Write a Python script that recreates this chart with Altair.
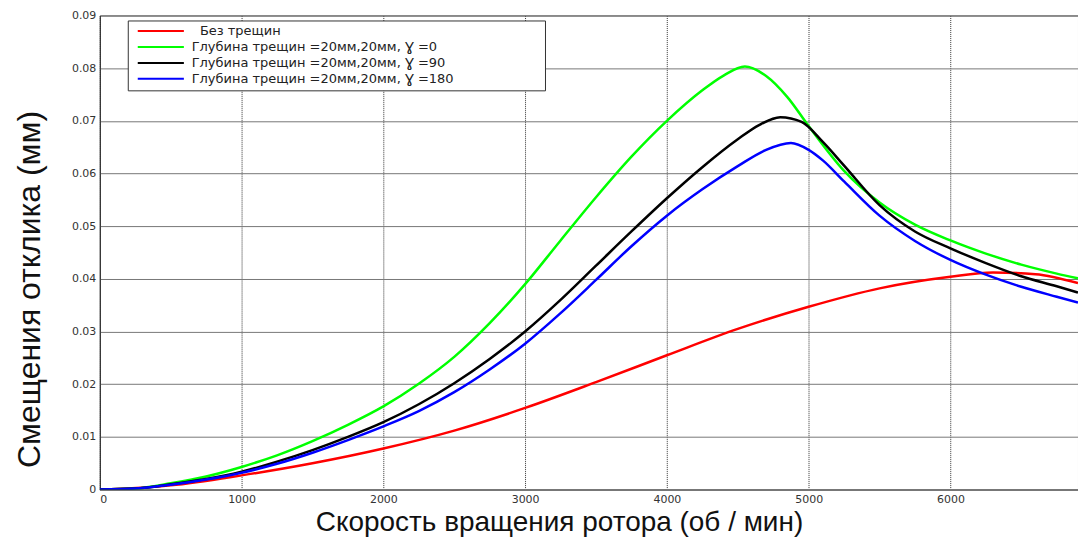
import altair as alt
import pandas as pd

# ---- data ----
ZW = "\u200b"
NB = "\u00a0"
labels = [
    ZW + NB * 2 + "Без трещин",
    "Глубина трещин =20мм,20мм, Ɣ =0",
    "Глубина трещин =20мм,20мм, Ɣ =90",
    "Глубина трещин =20мм,20мм, Ɣ =180" + NB * 21 + ZW,
]
colors = ["#ff0000", "#00ff00", "#000000", "#0000ff"]

red_x = [0, 500, 1000, 1500, 2000, 2500, 3000, 3500, 4000, 4500, 5000, 5500, 6000, 6300, 6600, 6900]
red_y = [0, 0.0008, 0.0027, 0.0050, 0.0078, 0.0112, 0.0155, 0.0204, 0.0255, 0.0305, 0.0347, 0.0382,
         0.0404, 0.0412, 0.0409, 0.0392]

green_x = [0, 250, 500, 750, 1000, 1250, 1500, 1750, 2000, 2250, 2500, 2750, 3000, 3250, 3500, 3750,
           4000, 4250, 4400, 4550, 4700, 4850, 5000, 5250, 5500, 5750, 6000, 6250, 6500, 6750, 6900]
green_y = [0, 0.0002, 0.0012, 0.0025, 0.0043, 0.0065, 0.0092, 0.0123, 0.0158, 0.0201, 0.0252, 0.0316,
           0.0390, 0.0473, 0.0555, 0.0632, 0.0700, 0.0758, 0.0786, 0.0803, 0.0785, 0.0745, 0.0690,
           0.0605, 0.0545, 0.0503, 0.0473, 0.0448, 0.0427, 0.0410, 0.0401]

black_x = [0, 250, 500, 750, 1000, 1250, 1500, 1750, 2000, 2250, 2500, 2750, 3000, 3250, 3500, 3750,
           4000, 4250, 4500, 4650, 4800, 4950, 5100, 5250, 5500, 5750, 6000, 6250, 6500, 6750, 6900]
black_y = [0, 0.0002, 0.0010, 0.0020, 0.0034, 0.0053, 0.0075, 0.0100, 0.0128, 0.0162, 0.0202, 0.0248,
           0.0300, 0.0360, 0.0425, 0.0490, 0.0553, 0.0612, 0.0665, 0.0692, 0.0707, 0.0698, 0.0660,
           0.0615, 0.0540, 0.0490, 0.0458, 0.0430, 0.0405, 0.0386, 0.0374]

blue_x = [0, 250, 500, 750, 1000, 1250, 1500, 1750, 2000, 2250, 2500, 2750, 3000, 3250, 3500, 3750,
          4000, 4250, 4500, 4700, 4875, 5000, 5100, 5250, 5500, 5750, 6000, 6250, 6500, 6750, 6900]
blue_y = [0, 0.0002, 0.0009, 0.0019, 0.0032, 0.0049, 0.0070, 0.0094, 0.0120, 0.0149, 0.0185, 0.0228,
          0.0277, 0.0335, 0.0398, 0.0462, 0.0520, 0.0570, 0.0614, 0.0645, 0.0658, 0.0645, 0.0625,
          0.0585, 0.0520, 0.0472, 0.0436, 0.0408, 0.0385, 0.0366, 0.0355]

x_ticks = [0, 1000, 2000, 3000, 4000, 5000, 6000]
y_ticks = [0, 0.01, 0.02, 0.03, 0.04, 0.05, 0.06, 0.07, 0.08, 0.09]

series = [(red_x, red_y), (green_x, green_y), (black_x, black_y), (blue_x, blue_y)]
rows = []
for i, (xs, ys) in enumerate(series):
    for x, y in zip(xs, ys):
        rows.append({"rpm": x, "disp": y, "series": labels[i], "order": i})
df = pd.DataFrame(rows)

chart = alt.Chart(df).mark_line(strokeWidth=2.5, interpolate="monotone", clip=True).encode(
    x=alt.X("rpm:Q",
            scale=alt.Scale(domain=[0, 6900], nice=False, zero=False),
            axis=alt.Axis(values=x_ticks, format="d", title="Скорость вращения ротора (об / мин)",
                          grid=True, gridDash=[1, 1], gridColor="#333", gridWidth=1,
                          ticks=False, labelPadding=4, labelFontSize=11,
                          labelFont="DejaVu Sans", labelColor="#333",
                          domain=True, domainColor="#777", domainWidth=2,
                          titleFont="Liberation Sans", titleFontSize=28, titleFontWeight="normal",
                          titleColor="#111", titleX=460, titleY=33, titleBaseline="middle",
                          titleAnchor="middle")),
    y=alt.Y("disp:Q",
            scale=alt.Scale(domain=[0, 0.09], nice=False),
            axis=alt.Axis(values=y_ticks, title="Смещения отклика (мм)",
                          labelExpr="datum.value == 0 ? '0' : format(datum.value, '.2f')",
                          grid=True, gridColor="#777", gridWidth=1,
                          ticks=False, labelPadding=4, labelFontSize=11,
                          labelFont="DejaVu Sans", labelColor="#333",
                          domain=True, domainColor="#333", domainWidth=1,
                          titleFont="Liberation Sans", titleFontSize=32, titleFontWeight="normal",
                          titleColor="#111", titleX=-70, titleY=274, titleBaseline="middle",
                          titleAngle=270, titleAnchor="middle")),
    color=alt.Color("series:N",
                    scale=alt.Scale(domain=labels, range=colors),
                    legend=alt.Legend(orient="none", legendX=28, legendY=5, title=None,
                                      symbolType="M-4.2,0H4.2", symbolSize=121,
                                      symbolStrokeWidth=2, symbolOffset=22.6,
                                      labelOffset=24.4, labelFont="DejaVu Sans", labelFontSize=13,
                                      labelColor="#222", labelLimit=700,
                                      strokeColor="#333", fillColor="white", padding=4,
                                      rowPadding=2, cornerRadius=0)),
    order=alt.Order("order:Q"),
    detail="series:N",
).properties(
    width=980, height=475,
    autosize=alt.AutoSizeParams(type="none"),
    padding={"left": 92, "top": 7, "right": 0, "bottom": 50},
).configure_view(stroke="#444", strokeWidth=1)

chart.save("out.html", embed_options={"renderer": "svg", "actions": False})
